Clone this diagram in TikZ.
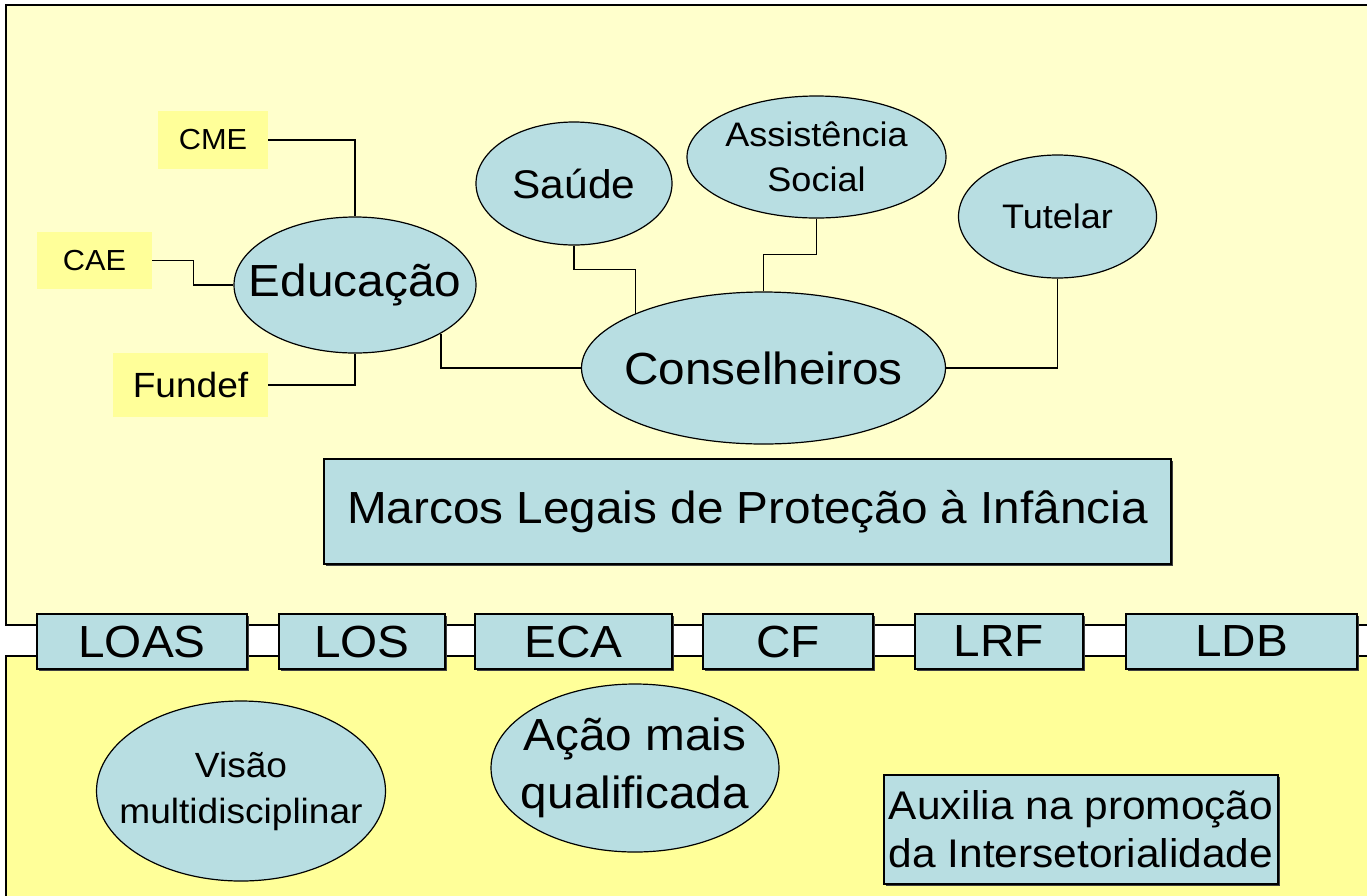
\documentclass[tikz,border=0pt]{standalone}
\usepackage{fontspec}
\setmainfont{Liberation Sans}
\usetikzlibrary{shapes.geometric,shadows}
\definecolor{paneltop}{HTML}{FFFFCC}
\definecolor{panelbot}{HTML}{FFFF99}
\definecolor{bluefill}{HTML}{B8DEE2}
\definecolor{tagfill}{HTML}{FFFF99}
\newcommand\fs[2]{\fontsize{#1}{#2}\selectfont}
\newcommand\wx[1]{\makebox[0pt]{\scalebox{1.06}[1]{#1}}}
\newcommand\wy[1]{\scalebox{1.06}[1]{#1}}
\tikzset{
  oval/.style={ellipse, draw=black, line width=1.2pt, fill=bluefill, inner sep=0pt, align=center, text=black},
  tag/.style={rectangle, fill=tagfill, draw=none, inner sep=0pt},
  lawbox/.style={rectangle, draw=black, line width=1.3pt, fill=bluefill, inner sep=0pt,
     drop shadow={shadow xshift=1.5pt, shadow yshift=-1.5pt, fill=black!75, opacity=1}},
  conn/.style={draw=black, line width=1.3pt},
  panel/.style={line width=2pt, draw=black}
}
\begin{document}
\begin{tikzpicture}[x=1pt,y=-1pt]
\useasboundingbox (0,0) rectangle (1367,895);
\fill[white] (0,0) rectangle (1367,895);
\begin{scope}
\clip (0,0) rectangle (1367,895);
\draw[panel, fill=paneltop] (6,5) rectangle (1390,625);
\draw[panel, fill=panelbot] (6,656) rectangle (1390,920);
\end{scope}

% tags
\node[tag, minimum width=110pt, minimum height=58pt, font=\fs{29}{35}] (cme) at (213,140) {\wy{CME}};
\node[tag, minimum width=115pt, minimum height=57pt, font=\fs{29}{35}] (cae) at (94.5,260.5) {\wy{CAE}};
\node[tag, minimum width=155pt, minimum height=64pt, font=\fs{35}{42}] (fundef) at (190.5,385) {\wy{Fundef}};

% ellipses
\node[oval, minimum width=242pt, minimum height=136pt, font=\fs{45}{54}] (edu) at (355,285) {\wx{Educação}};
\node[oval, minimum width=196pt, minimum height=123pt, font=\fs{40}{48}] (sau) at (574,183.5) {\wx{Saúde}};
\node[oval, minimum width=259pt, minimum height=122pt, font=\fs{34}{45}] (asis) at (816.5,157)
  {\wx{Assistência}\\\wx{Social}};
\node[oval, minimum width=198pt, minimum height=123pt, font=\fs{34}{41}] (tut) at (1057.5,216.5) {\wx{Tutelar}};
\node[oval, minimum width=364pt, minimum height=152pt, font=\fs{45}{54}] (cons) at (763.5,368) {\wx{Conselheiros}};

% connectors
\draw[conn] (cme.east) -| (edu.north);
\draw[conn] (cae.east) -- ++(41,0) |- (edu.west);
\draw[conn] (fundef.east) -| (edu.south);
\draw[conn] (edu.south east) |- (cons.west);
\draw[conn] (sau.south) -- ++(0,24) -| (cons.157);
\draw[conn] (asis.south) -- ++(0,36) -| (cons.north);
\draw[conn] (tut.south) |- (cons.east);

% marcos
\node[lawbox, minimum width=847pt, minimum height=105pt, font=\fs{45}{54}] (marcos) at (747.5,511.5) {\wy{Marcos Legais de Proteção à Infância}};

% laws
\node[lawbox, minimum width=210pt, minimum height=55pt, font=\fs{45}{54}] (loas) at (142,641.5) {\wy{LOAS}};
\node[lawbox, minimum width=166pt, minimum height=55pt, font=\fs{45}{54}] (los) at (362,641.5) {\wy{LOS}};
\node[lawbox, minimum width=197pt, minimum height=55pt, font=\fs{45}{54}] (eca) at (573.5,641.5) {\wy{ECA}};
\node[lawbox, minimum width=170pt, minimum height=55pt, font=\fs{45}{54}] (cf) at (788,641.5) {\wy{CF}};
\node[lawbox, minimum width=168pt, minimum height=55pt, font=\fs{45}{54}] (lrf) at (999,641.5) {\wy{LRF}};
\node[lawbox, minimum width=231pt, minimum height=55pt, font=\fs{45}{54}] (ldb) at (1241.5,641.5) {\wy{LDB}};

% bottom
\node[oval, minimum width=289pt, minimum height=180pt, font=\fs{35}{46}] (visao) at (241,791)
  {\wx{Visão}\\\wx{multidisciplinar}};
\node[oval, minimum width=288pt, minimum height=168pt, font=\fs{45}{58}] (acao) at (635,768)
  {\wx{Ação mais}\\\wx{qualificada}};
\node[lawbox, minimum width=394pt, minimum height=109pt, align=center, font=\fs{40}{48}] (aux) at (1081,829.5)
  {\wy{Auxilia na promoção}\\\wy{da Intersetorialidade}};
\end{tikzpicture}
\end{document}
